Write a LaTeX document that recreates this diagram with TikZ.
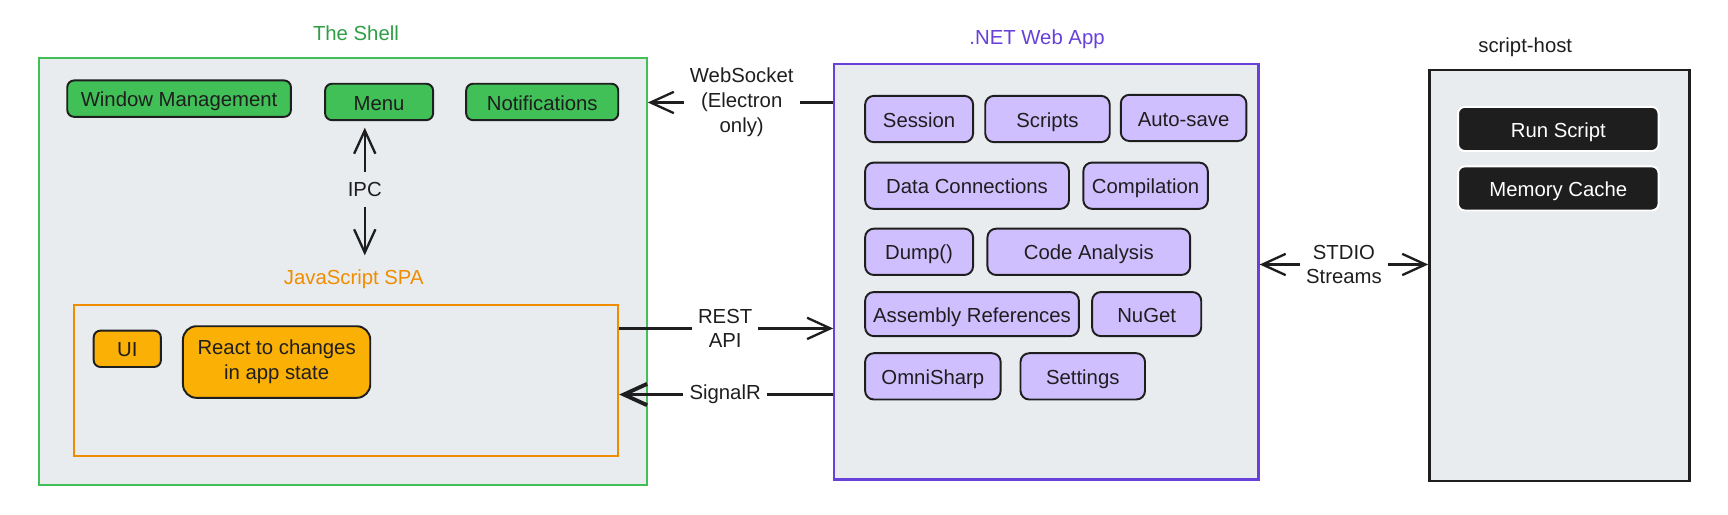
\documentclass[tikz,border=0pt]{standalone}
\usepackage{fontspec}
\setmainfont{Liberation Sans}
\usepackage{tikz}
\usetikzlibrary{arrows.meta}
\definecolor{shellgreen}{HTML}{40C057}
\definecolor{titlegreen}{HTML}{2F9E44}
\definecolor{boxgray}{HTML}{E9ECEF}
\definecolor{spaorange}{HTML}{F08C00}
\definecolor{uiyellow}{HTML}{FAB005}
\definecolor{netviolet}{HTML}{6741D9}
\definecolor{lilac}{HTML}{D0BFFF}
\definecolor{ink}{HTML}{1E1E1E}

\begin{document}
\begin{tikzpicture}[x=0.02cm,y=-0.02cm,
          font=\fontsize{10.5}{12.8}\selectfont,
          >={Straight Barb[length=12pt,width=11pt]},
          pane/.style={draw,line width=1pt,fill=boxgray,inner sep=0pt},
          tile/.style={draw=ink,line width=1pt,rounded corners=3.5pt,align=center,inner sep=0pt,text=ink},
          oneline/.style={text height=8.9pt,text depth=0.5pt},
          shellitem/.style={tile,oneline,fill=shellgreen,minimum height=0.66cm},
          netitem/.style={tile,oneline,fill=lilac,rounded corners=4.5pt,minimum height=0.84cm},
          hostitem/.style={tile,oneline,draw=white,fill=ink,text=white,minimum width=3.64cm,minimum height=0.8cm},
          conn/.style={ink,line width=1.2pt},
          connlabel/.style={align=center,inner sep=3pt,text=ink}]
          \useasboundingbox (0,0) rectangle (1568,467);
          \node[pane,draw=shellgreen,minimum width=11.04cm,minimum height=7.74cm] (shell) at (311,246.5) {};
          \node[text=titlegreen] (shelltitle) at (323,30) {The Shell};
          \node[shellitem,minimum width=4.06cm] (window) at (162.5,89.5) {Window Management};
          \node[shellitem,minimum width=1.96cm] (menu) at (344,92.5) {Menu};
          \node[shellitem,minimum width=2.76cm] (notify) at (492,92.5) {Notifications};
          \node[text=spaorange] (spatitle) at (321,253) {JavaScript SPA};
          \node[pane,draw=spaorange,minimum width=9.88cm,minimum height=2.74cm] (spa) at (314,345.5) {};
          \node[tile,oneline,fill=uiyellow,minimum width=1.22cm,minimum height=0.66cm] (ui) at (115.5,316.5) {UI};
          \node[tile,fill=uiyellow,rounded corners=7pt,minimum width=3.4cm,minimum height=1.3cm] (react) at (251,328.5) {React to changes\\in app state};
          \node[pane,draw=netviolet,line width=1.2pt,minimum width=7.7cm,minimum height=7.54cm] (net) at (949.5,246.5) {};
          \node[text=netviolet] (nettitle) at (941,36) {.NET Web App};
          \node[netitem,minimum width=1.96cm] (session) at (834,108) {Session};
          \node[netitem,minimum width=2.26cm] (scripts) at (950.5,108) {Scripts};
          \node[netitem,minimum width=2.28cm] (autosave) at (1074,107) {Auto-save};
          \node[netitem,minimum width=3.7cm] (dataconn) at (877.5,168.5) {Data Connections};
          \node[netitem,minimum width=2.26cm] (compile) at (1039.5,168.5) {Compilation};
          \node[netitem,minimum width=1.96cm] (dump) at (834,228.5) {Dump()};
          \node[netitem,minimum width=3.68cm] (analysis) at (988,228.5) {Code Analysis};
          \node[netitem,minimum width=3.88cm,minimum height=0.8cm] (asmrefs) at (882,285) {Assembly References};
          \node[netitem,minimum width=1.98cm,minimum height=0.8cm] (nuget) at (1040.5,285) {NuGet};
          \node[netitem,minimum width=2.46cm] (omnisharp) at (846.5,341.5) {OmniSharp};
          \node[netitem,minimum width=2.26cm] (settings) at (982.5,341.5) {Settings};
          \node[pane,draw=ink,line width=1.2pt,minimum width=4.72cm,minimum height=7.46cm] (host) at (1415,250) {};
          \node[text=ink] (hosttitle) at (1384,43) {script-host};
          \node[hostitem] (runscript) at (1414,117) {Run Script};
          \node[hostitem] (memcache) at (1414,171) {Memory Cache};
          \node[connlabel,inner ysep=5pt] (ipc) at (331,172) {IPC};
          \draw[conn,->,shorten >=0.12cm] (ipc.north) -- (menu.south -| ipc.north);
          \draw[conn,->,shorten >=0.13cm] (ipc.south) -- (spatitle.north -| ipc.south);
          \node[connlabel] (websocket) at (673,93) {WebSocket\\(Electron\\only)};
          \draw[conn] (net.west |- websocket) -- (websocket.east);
          \draw[conn,->] (websocket.west) -- (shell.east |- websocket);
          \node[connlabel] (rest) at (658,298) {REST\\API};
          \draw[conn] (spa.east |- rest) -- (rest.west);
          \draw[conn,->] (rest.east) -- (net.west |- rest);
          \node[connlabel] (signalr) at (658,358) {SignalR};
          \draw[conn,line width=2pt] (net.west |- signalr) -- (signalr.east);
          \draw[conn,line width=2pt,->] (signalr.west) -- (spa.east |- signalr);
          \node[connlabel] (stdio) at (1219.5,240) {STDIO\\Streams};
          \draw[conn,->] (stdio.west) -- (net.east |- stdio);
          \draw[conn,->] (stdio.east) -- (host.west |- stdio);
        \end{tikzpicture}
\end{document}
